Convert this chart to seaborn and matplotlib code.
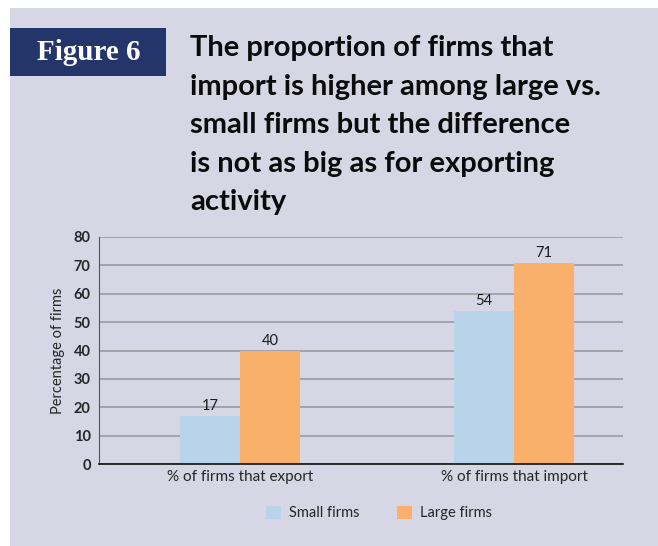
import pandas as pd
import seaborn as sns
import matplotlib.pyplot as plt
from matplotlib.patches import Rectangle

# data
categories = ["% of firms that export", "% of firms that import"]
small_firms = [17, 54]
large_firms = [40, 71]
groups = ["Small firms", "Large firms"]
yticks = [0, 10, 20, 30, 40, 50, 60, 70, 80]
title = ("The proportion of firms that\nimport is higher among large vs.\n"
         "small firms but the difference\nis not as big as for exporting\nactivity")

df = pd.DataFrame({
    "category": categories * 2,
    "group": [groups[0]] * 2 + [groups[1]] * 2,
    "value": small_firms + large_firms,
})

bg = "#d6d6e4"
sns.set_style("white")
plt.rcParams["font.family"] = ["Lato", "DejaVu Sans"]

fig = plt.figure(figsize=(6.58, 5.46), dpi=100)
fig.patch.set_facecolor("white")
# lavender panel
fig.add_artist(Rectangle((10 / 658, 0), 1, 1 - 8 / 546, transform=fig.transFigure,
                         facecolor=bg, edgecolor="none", zorder=-2))
# navy "Figure 6" box
fig.add_artist(Rectangle((10 / 658, 1 - 76 / 546), 156 / 658, 48 / 546,
                         transform=fig.transFigure, facecolor="#23356b",
                         edgecolor="none", zorder=-1))
fig.text(89 / 658, 1 - 53 / 546, "Figure 6", color="white", fontsize=21, fontweight="bold",
         family=["Liberation Serif", "DejaVu Serif"], ha="center", va="center")
fig.text(190 / 658, 1 - 35 / 546, title, fontsize=21, fontweight="bold", color="#0a0a0a",
         ha="left", va="top", linespacing=1.6)

ax = fig.add_axes([99 / 658, 1 - 464 / 546, 524 / 658, 227 / 546])
ax.set_facecolor(bg)
sns.barplot(data=df, x="category", y="value", hue="group", ax=ax,
            palette=["#b8d3ea", "#f9b06a"], width=0.44, saturation=1, legend=True,
            linewidth=0)

for cont in ax.containers:
    ax.bar_label(cont, fontsize=10.5, color="#1a1a1a", padding=2)

ax.set_ylim(0, 80)
ax.set_xlim(-0.515, 1.398)
ax.set_yticks(yticks)
ax.set_yticklabels([str(t) for t in yticks], fontweight="bold", fontsize=10.5)
ax.yaxis.grid(True, color="#9a9aa2", linewidth=1.2)
ax.set_axisbelow(True)
ax.tick_params(axis="both", length=0, pad=6)
ax.tick_params(axis="x", labelsize=11, pad=4)
ax.set_xlabel("")
ax.set_ylabel("Percentage of firms", fontsize=10.5, labelpad=6)
for s in ["top", "right"]:
    ax.spines[s].set_visible(False)
ax.spines["left"].set_color("#555555")
ax.spines["bottom"].set_color("#111111")
ax.spines["bottom"].set_linewidth(1.2)

handles, labels = ax.get_legend_handles_labels()
ax.legend(handles, labels, loc="center", bbox_to_anchor=(0.534, -0.216), ncol=2,
          frameon=False, fontsize=10.5, handlelength=1.05, handleheight=1.05,
          columnspacing=2.6, handletextpad=0.5)

fig.savefig("out.png", dpi=100, facecolor=fig.get_facecolor())
